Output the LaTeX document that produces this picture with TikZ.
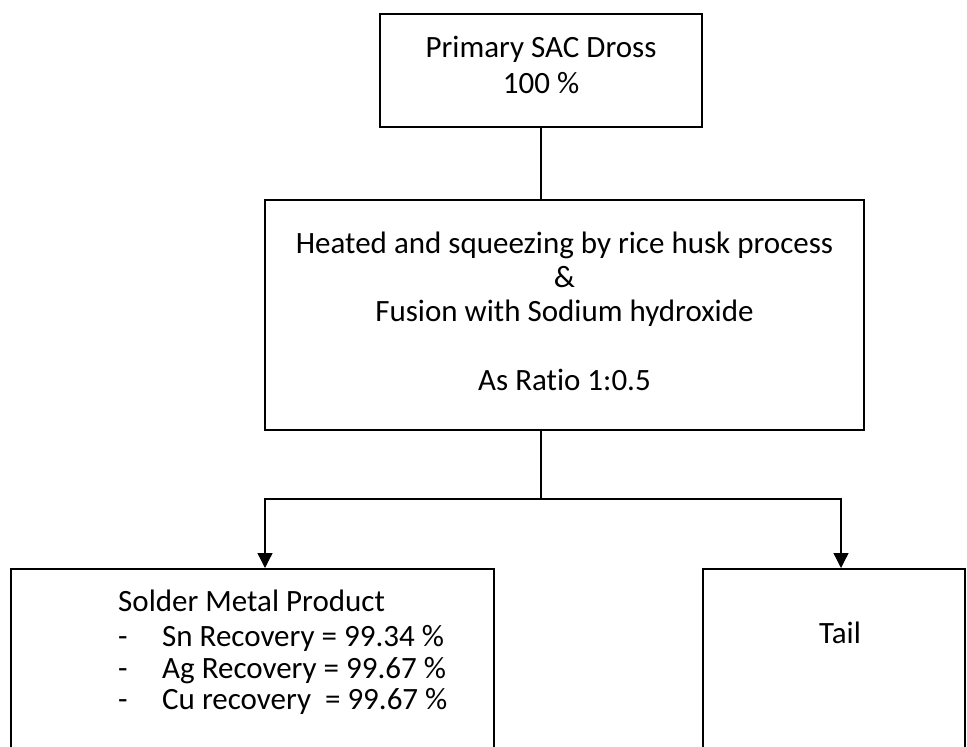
\documentclass[tikz,border=0pt]{standalone}
\usepackage{fontspec}
\setmainfont[Ligatures=CommonOff]{Carlito}
\usetikzlibrary{arrows.meta}
\begin{document}
\begin{tikzpicture}[x=1pt,y=-1pt,
  box/.style={draw, line width=2pt, inner sep=0pt},
  conn/.style={line width=1.3pt},
  arr/.style={conn, -{Triangle[length=15pt,width=15pt]}},
  txt/.style={anchor=base, inner sep=0pt, font=\fontsize{31}{37}\selectfont},
  txtw/.style={anchor=base west, inner sep=0pt, font=\fontsize{31}{37}\selectfont}]
\useasboundingbox (0,0) rectangle (967,747);
% boxes
\node[box, minimum width=322pt, minimum height=113pt] (top) at (541,70.5) {};
\node[box, minimum width=599pt, minimum height=230pt] (mid) at (564.5,315) {};
\node[box, minimum width=483pt, minimum height=231pt] (bl) at (252.5,684.5) {};
\node[box, minimum width=262pt, minimum height=231pt] (br) at (834,684.5) {};
% texts
\node[txt] (t1) at (541,57) {Primary SAC Dross};
\node[txt] (t2) at (541,93) {100 \%};
\node[txt] (m1) at (564.5,253) {Heated and squeezing by rice husk process};
\node[txt] (m2) at (564.5,287) {\&};
\node[txt] (m3) at (564.5,321) {Fusion with Sodium hydroxide};
\node[txt] (m4) at (564.5,390) {As Ratio 1:0.5};
\node[txtw] (s0) at (118,611) {Solder Metal Product};
\node[txtw] (d1) at (118,646) {-};
\node[txtw] (s1) at (162,646) {Sn Recovery = 99.34 \%};
\node[txtw] (d2) at (118,678) {-};
\node[txtw] (s2) at (162,678) {Ag Recovery = 99.67 \%};
\node[txtw] (d3) at (118,709) {-};
\node[txtw] (s3) at (162,709) {Cu recovery\ \ = 99.67 \%};
\node[txt] (tail) at (840,643) {Tail};
% connectors
\coordinate (hub) at (541,499);
\draw[conn] (top.south) -- (top.south |- mid.north);
\draw[conn] (mid.south -| top.south) -- (hub);
\draw[arr] (hub) -| ([xshift=12.5pt]bl.north);
\draw[arr] (hub) -| ([xshift=7pt]br.north);
\end{tikzpicture}
\end{document}
